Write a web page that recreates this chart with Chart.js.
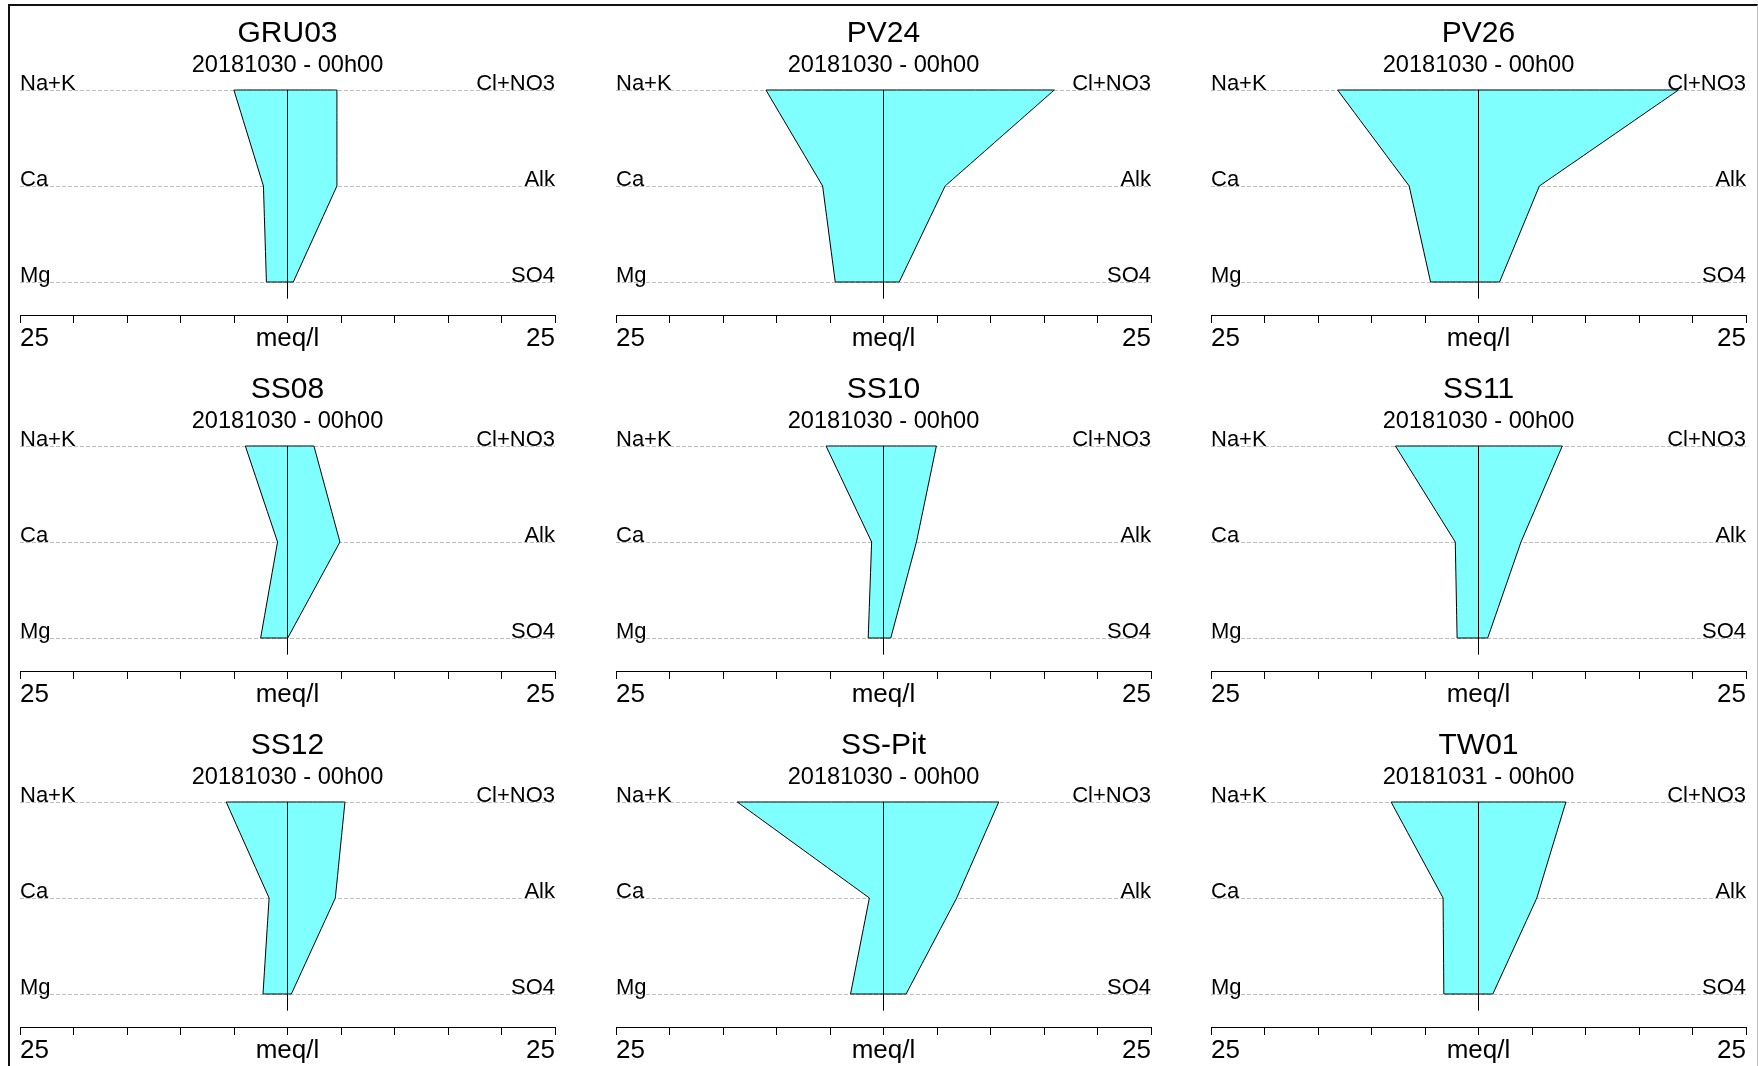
<!DOCTYPE html>
<html lang="en">
<head>
<meta charset="UTF-8">
<title>Stiff diagrams</title>
<script src="https://cdn.jsdelivr.net/npm/chart.js"></script>
<style>
  html, body { margin: 0; padding: 0; background: #fff; overflow: hidden; }
  body { width: 1758px; height: 1066px; position: relative; }
  .frame { position: absolute; left: 8px; top: 4px; width: 1747px; height: 1080px;
           border-left: 2px solid #111; border-top: 2px solid #111; border-right: 1px solid #c4c4c4; }
  canvas { position: absolute; }
</style>
</head>
<body>
<div class="frame"></div>
<script>
// stations, one Stiff diagram each (values in meq/l)
const stations = ['GRU03', 'PV24', 'PV26', 'SS08', 'SS10', 'SS11', 'SS12', 'SS-Pit', 'TW01'];
const sampleDates = ['20181030 - 00h00', '20181030 - 00h00', '20181030 - 00h00',
                     '20181030 - 00h00', '20181030 - 00h00', '20181030 - 00h00',
                     '20181030 - 00h00', '20181030 - 00h00', '20181031 - 00h00'];

const naK   = [5.01, 10.99, 13.17, 3.94, 5.37, 7.76, 5.73, 13.67, 8.17];
const ca    = [2.25, 5.69, 6.48, 0.93, 1.11, 2.17, 1.72, 1.32, 3.31];
const mg    = [1.97, 4.51, 4.48, 2.51, 1.43, 2.00, 2.29, 3.08, 3.24];
const clNo3 = [4.62, 15.96, 18.69, 2.47, 4.94, 7.83, 5.37, 10.77, 8.17];
const alk   = [4.62, 5.76, 5.69, 4.90, 3.08, 3.97, 4.47, 6.84, 5.45];
const so4   = [0.54, 1.47, 1.97, 0.02, 0.68, 0.86, 0.36, 2.11, 1.34];

const cationLabels = ['Na+K', 'Ca', 'Mg'];
const anionLabels = ['Cl+NO3', 'Alk', 'SO4'];
const xTickValues = [-25, 0, 25];
const xTickText = ['25', 'meq/l', '25'];

const FONT = '"Liberation Sans", Arial, sans-serif';
const colLeft = [8, 604, 1199];
const rowTop = [0, 356, 712];
const rowPos = [0, 1, 2];

function rowTicks(scale) {
  scale.ticks = rowPos.map(v => ({ value: v }));
}

stations.forEach((name, i) => {
  const cations = [naK[i], ca[i], mg[i]];
  const anions = [clNo3[i], alk[i], so4[i]];

  const cv = document.createElement('canvas');
  cv.width = 559;
  cv.height = 354;
  cv.style.left = colLeft[i % 3] + 'px';
  cv.style.top = rowTop[Math.floor(i / 3)] + 'px';
  document.body.appendChild(cv);

  // closed outline: across the top, down the anion side, back up the cation side
  const outline = [{ x: -cations[0], y: 0 }, { x: anions[0], y: 0 }, { x: anions[1], y: 1 },
                   { x: anions[2], y: 2 }, { x: -cations[2], y: 2 }, { x: -cations[1], y: 1 },
                   { x: -cations[0], y: 0 }];

  new Chart(cv, {
    type: 'line',
    data: {
      datasets: [
        {
          label: 'cations',
          data: rowPos.map(k => ({ x: -cations[k], y: k })),
          fill: 'origin',
          backgroundColor: '#80ffff',
          borderWidth: 0,
          pointRadius: 0,
          order: 3
        },
        {
          label: 'anions',
          data: rowPos.map(k => ({ x: anions[k], y: k })),
          fill: 'origin',
          backgroundColor: '#80ffff',
          borderWidth: 0,
          pointRadius: 0,
          order: 3
        },
        {
          label: 'outline',
          data: outline,
          fill: false,
          borderColor: '#000',
          borderWidth: 1,
          pointRadius: 0,
          tension: 0.000001, // keeps straight edges but skips the fast path that retraces vertical runs
          order: 1
        },
        {
          label: 'axis',
          data: [{ x: 0, y: 0 }, { x: 0, y: 2.17 }],
          fill: false,
          borderColor: '#000',
          borderWidth: 1,
          pointRadius: 0,
          order: 0
        }
      ]
    },
    options: {
      indexAxis: 'y',
      responsive: false,
      animation: false,
      events: [],
      layout: { padding: { left: 12, right: 12, top: 0, bottom: 0 }, autoPadding: false },
      plugins: {
        legend: { display: false },
        tooltip: { enabled: false },
        title: {
          display: true, text: name, color: '#000',
          font: { family: FONT, size: 30, weight: 'normal', lineHeight: 1 },
          padding: { top: 18.4, bottom: 0 }
        },
        subtitle: {
          display: true, text: sampleDates[i], color: '#000',
          font: { family: FONT, size: 23.6, weight: 'normal', lineHeight: 1 },
          padding: { top: 5.1, bottom: 0.9 }
        }
      },
      scales: {
        x: {
          type: 'linear', min: -25, max: 25,
          ticks: {
            stepSize: 5, autoSkip: false, maxRotation: 0, align: 'inner', padding: 0,
            color: '#000', font: { family: FONT, size: 26, lineHeight: 31 / 26 },
            callback: v => {
              const k = xTickValues.indexOf(v);
              return k >= 0 ? xTickText[k] : '';
            }
          },
          grid: { drawOnChartArea: false, drawTicks: true, tickLength: 8, tickColor: '#000', tickWidth: 1 },
          border: { display: true, color: '#000', width: 1 }
        },
        y: {
          type: 'linear', reverse: true, min: -0.125, max: 2.34375,
          afterBuildTicks: rowTicks,
          ticks: {
            mirror: true, padding: 0, labelOffset: -6, color: '#000',
            font: { family: FONT, size: 22 },
            callback: v => cationLabels[v]
          },
          grid: { color: '#bdbdbd', lineWidth: 1, drawTicks: false },
          border: { display: false, dash: [4, 2] }
        },
        y2: {
          type: 'linear', position: 'right', reverse: true, min: -0.125, max: 2.34375,
          afterBuildTicks: rowTicks,
          ticks: {
            mirror: true, padding: 0, labelOffset: -6, color: '#000',
            font: { family: FONT, size: 22 },
            callback: v => anionLabels[v]
          },
          grid: { display: false, drawTicks: false },
          border: { display: false }
        }
      }
    }
  });
});
</script>
</body>
</html>
